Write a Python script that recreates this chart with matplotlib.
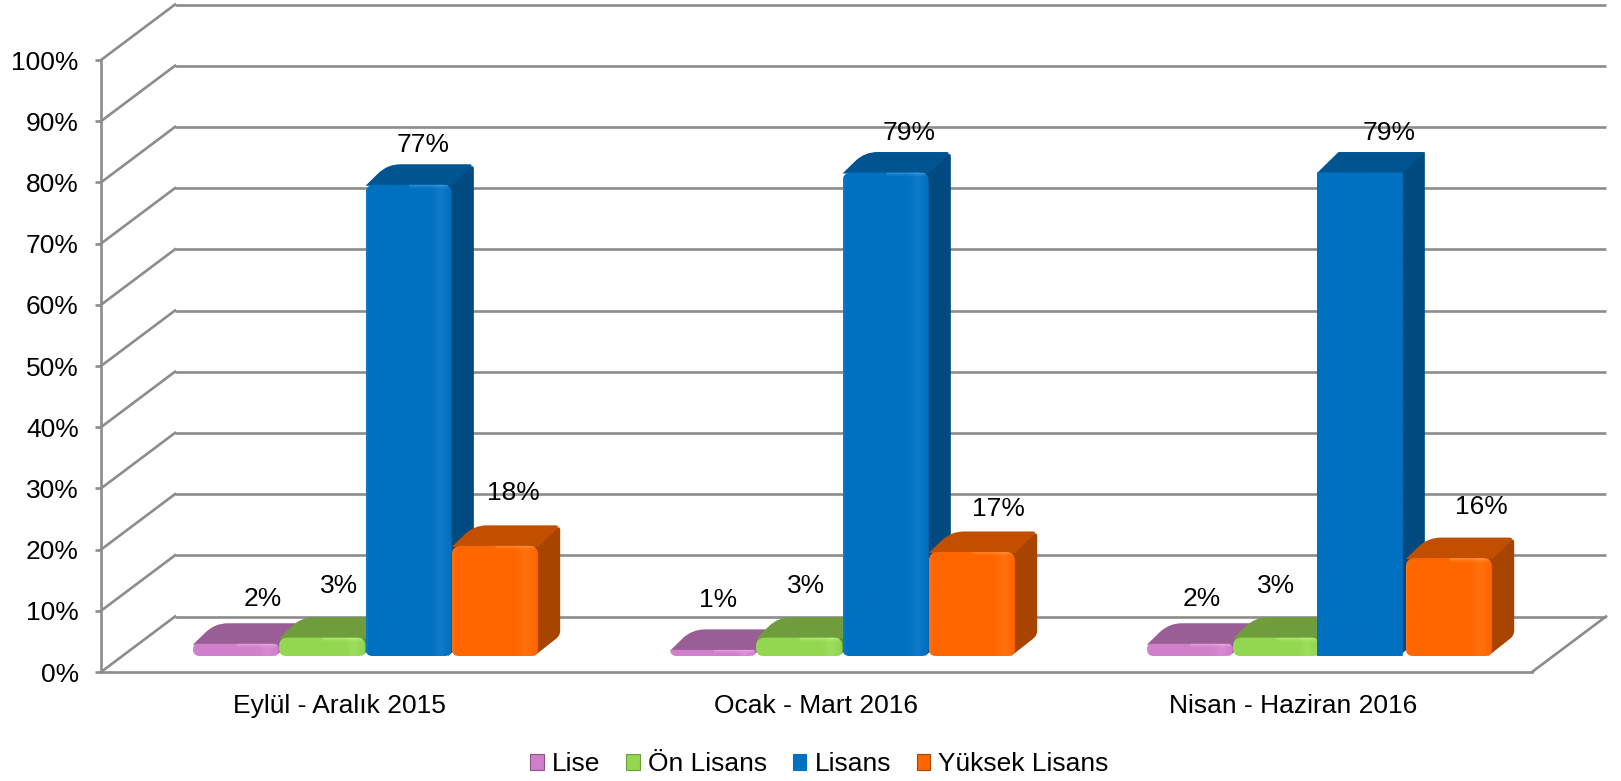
import numpy as np
import matplotlib
matplotlib.use("Agg")
import matplotlib.pyplot as plt
from matplotlib.path import Path
from matplotlib.patches import PathPatch, Patch
from matplotlib.transforms import IdentityTransform, Affine2D
from matplotlib.colors import to_rgb

# ---------- data ----------
categories = ["Eylül - Aralık 2015", "Ocak - Mart 2016", "Nisan - Haziran 2016"]
series_names = ["Lise", "Ön Lisans", "Lisans", "Yüksek Lisans"]
lise = [2, 1, 2]
on_lisans = [3, 3, 3]
lisans = [77, 79, 79]
yuksek_lisans = [18, 17, 16]
y_ticks = [0, 10, 20, 30, 40, 50, 60, 70, 80, 90, 100]
y_tick_labels = [f"{v}%" for v in y_ticks]

# ---------- style ----------
FONT = "Liberation Sans"
GRID = "#8C8C8C"
FRONT = ["#D07FCB", "#93D650", "#0070C0", "#FF6600"]
TOP = ["#9A5E96", "#6F9C3C", "#00548F", "#C24F00"]
SIDE = ["#8A5487", "#5F8733", "#004A80", "#A64400"]
LEGEND_EDGE = ["#8A5487", "#6F9C3C", "#0070C0", "#A64400"]
WALL_DX, WALL_DY = 74, 55.5        # depth of the chart floor, px
BAR_DX, BAR_DY = 26, 16            # bar front plane offset, px
BAR_DEPTH_X, BAR_DEPTH_Y = 22, 20.5
BAR_W = 0.181
R = 9
# per-label nudges in px (dx right, dy up) from bar top centre
LABEL_NUDGE = [
    [(27, 45), (5, 50), (12, 45)],
    [(17, 52), (7, 52), (0, 52)],
    [(14, 40), (23, 40), (29, 40)],
    [(18, 53), (26, 43), (32, 51)],
]

plt.rcParams["font.family"] = [FONT, "DejaVu Sans"]
fig = plt.figure(figsize=(16.21, 7.81), dpi=100, facecolor="white")
ax = fig.add_axes([101 / 1621, (781 - 672) / 781, 1431 / 1621, 612 / 781])
ax.set_xlim(-0.5, 2.5)
ax.set_ylim(0, 100)
ax.set_autoscale_on(False)
ax.patch.set_visible(False)

for s in ("top", "right"):
    ax.spines[s].set_visible(False)
for s in ("left", "bottom"):
    ax.spines[s].set_color(GRID)
    ax.spines[s].set_linewidth(1.9)
ax.set_yticks(y_ticks)
ax.set_yticklabels(y_tick_labels, fontsize=19, color="black")
ax.tick_params(axis="y", length=4, width=1.9, color=GRID, pad=12)
ax.set_xticks(range(len(categories)))
ax.set_xticklabels(categories, fontsize=19, color="black")
ax.tick_params(axis="x", length=0, pad=16)
for lab in ax.get_yticklabels():
    lab.set_y(lab.get_position()[1])

ID = IdentityTransform()
wall = Affine2D().translate(WALL_DX, WALL_DY)

# back wall lines and left-wall diagonals
for v in y_ticks:
    ax.plot([-0.5, 2.5], [v, v], color=GRID, lw=1.9, clip_on=False,
            transform=ax.transData + wall, zorder=1, solid_capstyle="butt")
    x0, y0 = ax.transData.transform((-0.5, v))
    ax.plot([x0, x0 + WALL_DX], [y0, y0 + WALL_DY], color=GRID, lw=1.9,
            clip_on=False, transform=ID, zorder=1)
x0, y0 = ax.transData.transform((2.5, 0))
ax.plot([x0, x0 + WALL_DX], [y0, y0 + WALL_DY], color=GRID, lw=1.9,
        clip_on=False, transform=ID, zorder=1)


def rounded(points, radii):
    """Closed path through the corners of a polygon, corners rounded."""
    pts = np.asarray(points, float)
    n = len(pts)
    verts, codes = [], []
    for i in range(n):
        p, a, b = pts[i], pts[i - 1], pts[(i + 1) % n]
        r = radii[i]
        da = (a - p) / max(np.linalg.norm(a - p), 1e-6)
        db = (b - p) / max(np.linalg.norm(b - p), 1e-6)
        verts.append(p + da * r)
        codes.append(Path.MOVETO if i == 0 else Path.LINETO)
        verts += [p, p + db * r]
        codes += [Path.CURVE3, Path.CURVE3]
    verts.append(verts[0])
    codes.append(Path.CLOSEPOLY)
    return Path(verts, codes)


def shade(color, w, h, sharp):
    """Front face colours: a soft light band near the right edge and a top rim."""
    base = np.array(to_rgb(color))
    u = np.linspace(0, 1, w)
    v = np.linspace(0, 1, h)  # 0 = top
    U, V = np.meshgrid(u, v)
    k = np.zeros_like(U)
    if not sharp:
        k += 0.055 * np.exp(-((U - 0.86) / 0.07) ** 2)
        k += 0.05 * np.exp(-(U / 0.02) ** 2)
        k -= 0.12 * np.exp(-((1 - U) / 0.012) ** 2)
        k += 0.16 * np.exp(-(V * h / 2.5) ** 2) * (U > 0.5) * (U < 0.97)
    rgb = base[None, None, :] + k[..., None] * (1 - base[None, None, :] * 0.6)
    return np.clip(rgb, 0, 1)


def draw_bar(cat, ser, value, zbase):
    sharp = (cat == 2 and ser == 2)      # this one bar has no bevel in the source
    xc = cat + (ser - 1.5) * BAR_W
    xl, yb = ax.transData.transform((xc - BAR_W / 2, 0))
    xr, yt = ax.transData.transform((xc + BAR_W / 2, value))
    shift = -3 if sharp else 0
    xl, xr = xl + BAR_DX + shift, xr + BAR_DX + shift
    yb, yt = yb + BAR_DY, yt + BAR_DY
    dx, dy = BAR_DEPTH_X, BAR_DEPTH_Y
    r = 0.5 if sharp else min(R, (yt - yb) / 2.2)
    rb = 0.5 if sharp else 7
    rs = 0.5 if sharp else 5
    # side
    side = rounded([(xr - 4, yb), (xr + dx, yb + dy), (xr + dx, yt + dy), (xr - 4, yt)],
                   [0.5, rs, rs, 0.5])
    ax.add_patch(PathPatch(side, fc=SIDE[ser], ec="none", transform=ID,
                           clip_on=False, zorder=zbase))
    # top
    top = rounded([(xl, yt - 1), (xr, yt - 1), (xr + dx, yt + dy), (xl + dx, yt + dy)],
                  [0.5, 0.5, rs, 0.5 if sharp else 13])
    ax.add_patch(PathPatch(top, fc=TOP[ser], ec="none", transform=ID,
                           clip_on=False, zorder=zbase + 0.1))
    # front
    front = rounded([(xl, yb), (xr, yb), (xr, yt), (xl, yt)], [rb, rb, r, r])
    clip = PathPatch(front, fc="none", ec="none", transform=ID)
    ax.add_patch(clip)
    w, h = int(round(xr - xl)), max(int(round(yt - yb)), 2)
    im = ax.imshow(shade(FRONT[ser], w, h, sharp), extent=(xl, xr, yb, yt),
                   transform=ID, aspect="auto", interpolation="bilinear",
                   origin="upper", zorder=zbase + 0.2, clip_on=True)
    im.set_clip_path(clip)
    # value label
    ndx, ndy = LABEL_NUDGE[ser][cat]
    ax.text((xl + xr) / 2 + ndx, yt + ndy, f"{value}%", transform=ID,
            fontsize=19, ha="center", va="center", color="black",
            zorder=50, clip_on=False)


all_series = [lise, on_lisans, lisans, yuksek_lisans]
for c in range(len(categories)):
    for s, values in enumerate(all_series):
        draw_bar(c, s, values[c], 5 + c * 5 + s)

ax.set_xlim(-0.5, 2.5)
ax.set_ylim(0, 100)

handles = [Patch(facecolor=FRONT[i], edgecolor=LEGEND_EDGE[i], linewidth=0.8)
           for i in range(len(series_names))]
fig.legend(handles, series_names, loc="center", ncols=4, frameon=False,
           bbox_to_anchor=(819.5 / 1621, 1 - 764 / 781), fontsize=19,
           handlelength=0.52, handleheight=0.55, handletextpad=0.3,
           columnspacing=0.98, borderpad=0, borderaxespad=0)

fig.savefig("out.png", dpi=100, facecolor="white")
